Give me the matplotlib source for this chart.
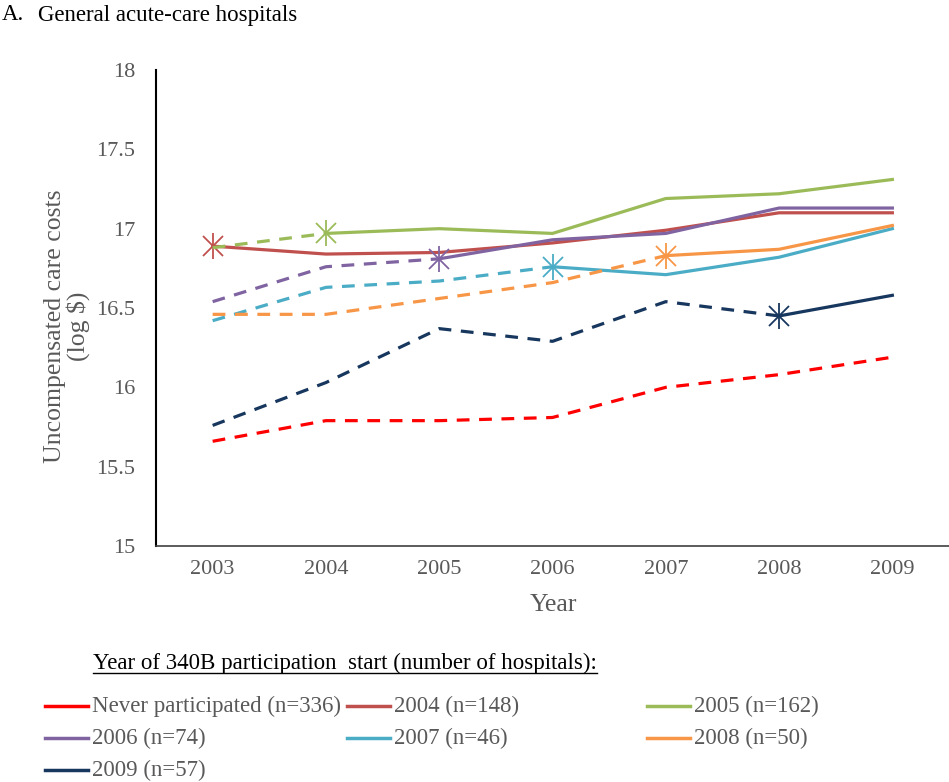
import matplotlib
matplotlib.use("Agg")
import matplotlib.pyplot as plt
from matplotlib.lines import Line2D

plt.rcParams['font.family'] = ['Liberation Serif', 'DejaVu Serif']

years = [2003, 2004, 2005, 2006, 2007, 2008, 2009]

labels = ["Never participated (n=336)", "2004 (n=148)", "2005 (n=162)",
          "2006 (n=74)", "2007 (n=46)", "2008 (n=50)", "2009 (n=57)"]
start_year = [None, 2004, 2005, 2006, 2007, 2008, 2009]
colors = ["#FF0000", "#C0504D", "#9BBB59", "#8064A2", "#4BACC6", "#F79646", "#17375E"]

never = [15.66, 15.79, 15.79, 15.81, 16.00, 16.08, 16.19]
s2004 = [16.89, 16.84, 16.85, 16.91, 16.99, 17.10, 17.10]
s2005 = [16.88, 16.97, 17.00, 16.97, 17.19, 17.22, 17.31]
s2006 = [16.54, 16.76, 16.81, 16.93, 16.97, 17.13, 17.13]
s2007 = [16.42, 16.63, 16.67, 16.76, 16.71, 16.82, 17.00]
s2008 = [16.46, 16.46, 16.56, 16.66, 16.83, 16.87, 17.02]
s2009 = [15.76, 16.03, 16.37, 16.29, 16.54, 16.45, 16.58]
series = [never, s2004, s2005, s2006, s2007, s2008, s2009]

W, H = 949, 782
fig = plt.figure(figsize=(W / 100, H / 100), dpi=100)
ax = fig.add_axes([156 / W, 1 - 546 / H, 1 - 156 / W, (546 - 70) / H])

lw = 2.3
for vals, sy, col in zip(series, start_year, colors):
    if sy is None:
        ax.plot(years, vals, color=col, lw=lw, dashes=(4, 3))
        continue
    k = years.index(sy - 1)
    if k > 0:
        ax.plot(years[:k + 1], vals[:k + 1], color=col, lw=lw, dashes=(4, 3))
    ax.plot(years[k:], vals[k:], color=col, lw=lw)
    ax.plot([years[k]], [vals[k]], marker='x', ms=15, mew=1.3, color=col, ls='none')
    ax.plot([years[k]], [vals[k]], marker='|', ms=19, mew=1.3, color=col, ls='none')

ax.set_xlim(2002.5, 2009.5)
ax.set_ylim(15, 18)
ax.set_xticks(years)
ax.set_yticks([15, 15.5, 16, 16.5, 17, 17.5, 18])
ax.set_yticklabels(["15", "15.5", "16", "16.5", "17", "17.5", "18"])
ax.tick_params(axis='both', length=0, labelsize=16, colors='#595959')
ax.tick_params(axis='y', pad=15)
ax.tick_params(axis='x', pad=10)
for s in ['top', 'right']:
    ax.spines[s].set_visible(False)
ax.spines['left'].set_linewidth(1.5)
ax.spines['left'].set_color('black')
ax.spines['bottom'].set_linewidth(1.2)
ax.spines['bottom'].set_color('#404040')

fig.text(553 / W, 1 - 605 / H, "Year", fontsize=18.5, color='#595959',
         ha='center', va='center')
fig.text(67 / W, 1 - 326 / H, "Uncompensated care costs\n(log $)", rotation=90,
         ha='center', va='center', fontsize=18.5, color='#595959', linespacing=1.05)

fig.text(2 / W, 1 - 15 / H, "A.", fontsize=16.5, ha='left', va='center', color='black')
fig.text(38 / W, 1 - 15 / H, "General acute-care hospitals", fontsize=16.5, ha='left',
         va='center', color='black')

# legend
lt = fig.text(93 / W, 1 - 663 / H, "Year of 340B participation  start (number of hospitals):",
              fontsize=16.5, ha='left', va='center', color='black')
fig.canvas.draw()
bb = lt.get_window_extent()
fig.add_artist(Line2D([bb.x0 / W, bb.x1 / W], [(bb.y0 + 1) / H, (bb.y0 + 1) / H],
                      color='black', lw=1.0, transform=fig.transFigure))

col_x = [45, 347, 647]
row_y = [706, 738, 770]
for i, (lab, col) in enumerate(zip(labels, colors)):
    r, c = divmod(i, 3)
    x0 = col_x[c]
    y0 = 1 - row_y[r] / H
    fig.add_artist(Line2D([x0 / W, (x0 + 43) / W], [y0, y0], color=col, lw=2.5,
                          transform=fig.transFigure))
    fig.text((x0 + 47) / W, y0, lab, fontsize=16.5, ha='left', va='center', color='#595959')

fig.savefig("out.png", dpi=100)
